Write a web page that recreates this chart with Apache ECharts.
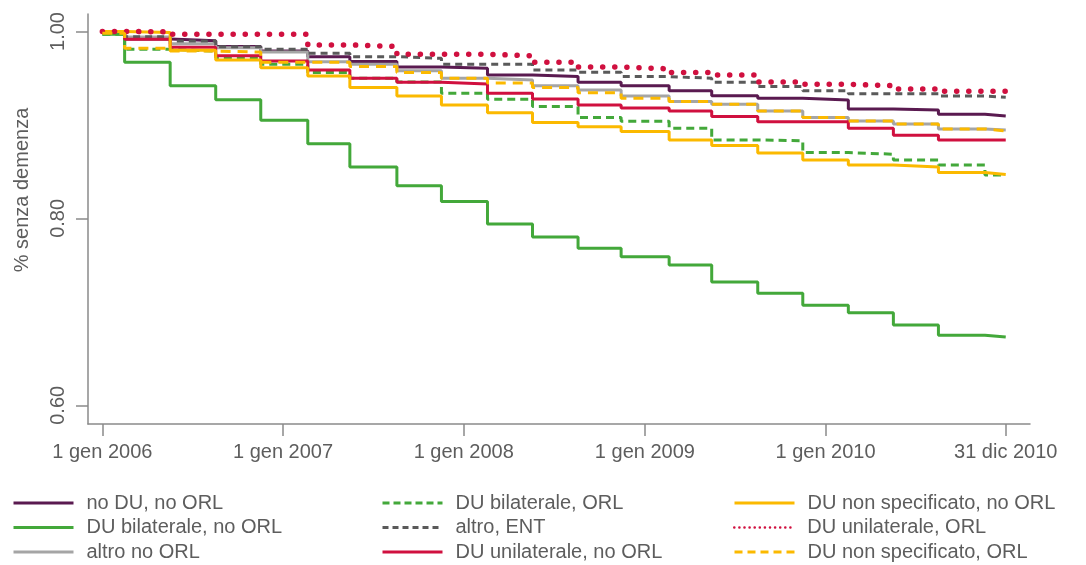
<!DOCTYPE html>
<html>
<head>
<meta charset="utf-8">
<script src="https://cdn.jsdelivr.net/npm/echarts@6/dist/echarts.min.js"></script>
<style>html,body{margin:0;padding:0;background:#fff}#c{width:1086px;height:565px}</style>
</head>
<body>
<div id="c"></div>
<script>
// Days since 1 Jan 2006 of the axis ticks, and their labels
const tickDays = [0, 365, 730, 1096, 1461, 1825];
const tickLabels = ['1 gen 2006', '1 gen 2007', '1 gen 2008', '1 gen 2009', '1 gen 2010', '31 dic 2010'];
const yTicks = [0.6, 0.8, 1.0];
const yTitle = '% senza demenza';

// Step times (days since 1 Jan 2006): start, 20 drops, end (31 dic 2010)
const stepDays = [0, 45, 137, 229, 320, 415, 500, 595, 685, 778, 869, 961, 1048, 1145, 1231, 1324, 1415, 1507, 1598, 1689, 1783, 1825];

// Survival values (level held after each step time)
const noDU_noORL      = [1.000, 0.992, 0.990, 0.984, 0.979, 0.973, 0.968, 0.962, 0.9606, 0.9535, 0.9517, 0.9457, 0.942, 0.9367, 0.9313, 0.9286, 0.9267, 0.917, 0.916, 0.9114, 0.9096];
const DUbil_noORL     = [0.997, 0.967, 0.942, 0.927, 0.905, 0.880, 0.855, 0.835, 0.818, 0.794, 0.780, 0.768, 0.759, 0.750, 0.732, 0.720, 0.707, 0.699, 0.686, 0.675, 0.673];
const altro_noORL     = [1.000, 0.994, 0.987, 0.9827, 0.978, 0.9677, 0.965, 0.958, 0.950, 0.948, 0.942, 0.9374, 0.931, 0.925, 0.922, 0.915, 0.908, 0.9043, 0.901, 0.8957, 0.8947];
const DUbil_ORL       = [0.997, 0.981, 0.979, 0.972, 0.965, 0.956, 0.950, 0.946, 0.934, 0.9275, 0.9196, 0.908, 0.904, 0.8965, 0.884, 0.883, 0.8704, 0.8687, 0.8626, 0.857, 0.8465];
const altro_ENT       = [1.000, 0.9944, 0.9898, 0.9837, 0.981, 0.9767, 0.973, 0.9713, 0.965, 0.965, 0.9588, 0.9564, 0.9517, 0.950, 0.9457, 0.941, 0.9367, 0.9335, 0.9335, 0.931, 0.9296];
const DUuni_noORL     = [1.000, 0.9917, 0.983, 0.974, 0.9684, 0.9588, 0.950, 0.9457, 0.9438, 0.934, 0.9278, 0.9214, 0.918, 0.915, 0.909, 0.9035, 0.9035, 0.8965, 0.889, 0.884, 0.884];
const DUnonspec_noORL = [1.000, 0.999, 0.980, 0.9695, 0.9613, 0.9524, 0.940, 0.931, 0.9214, 0.913, 0.9025, 0.898, 0.893, 0.884, 0.878, 0.870, 0.8626, 0.857, 0.855, 0.849, 0.847];
const DUuni_ORL       = [1.000, 0.9995, 0.997, 0.997, 0.997, 0.9856, 0.984, 0.9756, 0.9756, 0.974, 0.967, 0.962, 0.960, 0.956, 0.9535, 0.946, 0.9435, 0.942, 0.9385, 0.936, 0.936];
const DUnonspec_ORL   = [0.998, 0.982, 0.979, 0.978, 0.967, 0.967, 0.9624, 0.956, 0.950, 0.945, 0.940, 0.9345, 0.9286, 0.925, 0.922, 0.915, 0.908, 0.9043, 0.901, 0.8957, 0.8936];

const seriesNames = ['no DU, no ORL', 'DU bilaterale, no ORL', 'altro no ORL', 'DU bilaterale, ORL', 'altro, ENT', 'DU unilaterale, no ORL', 'DU non specificato, no ORL', 'DU unilaterale, ORL', 'DU non specificato, ORL'];
const seriesValues = [noDU_noORL, DUbil_noORL, altro_noORL, DUbil_ORL, altro_ENT, DUuni_noORL, DUnonspec_noORL, DUuni_ORL, DUnonspec_ORL];

const PURPLE = '#5a1a50', GREEN = '#43a83a', LGRAY = '#a5a5a5', DGRAY = '#5a5a5a', RED = '#d0103f', YELLOW = '#fbb900';
const styles = [
  {color: PURPLE, type: 'solid', width: 3},
  {color: GREEN, type: 'solid', width: 3},
  {color: LGRAY, type: 'solid', width: 3},
  {color: GREEN, type: [8, 5], width: 3},
  {color: DGRAY, type: [7, 5], width: 3},
  {color: RED, type: 'solid', width: 3},
  {color: YELLOW, type: 'solid', width: 3},
  {color: RED, type: [0.1, 12], width: 5.5, cap: 'round'},
  {color: YELLOW, type: [10, 7], width: 3}
];
const legendLine = [
  {width: 3, type: 'solid'},
  {width: 3, type: 'solid'},
  {width: 3, type: 'solid'},
  {width: 3, type: [7, 4]},
  {width: 3, type: [6, 4]},
  {width: 3, type: 'solid'},
  {width: 3, type: 'solid'},
  {width: 2.5, type: [0.1, 5], cap: 'round'},
  {width: 3, type: [8, 5]}
];

const TXT = '#5d5d5d', AX = '#8a8a8a';
const FONT = 'Liberation Sans, Arial, sans-serif';

const series = seriesNames.map((name, k) => ({
  name: name,
  type: 'line',
  step: 'end',
  symbol: 'none',
  z: 2 + k,
  lineStyle: styles[k],
  itemStyle: {color: styles[k].color},
  data: stepDays.map((d, i) => [d, seriesValues[k][Math.min(i, seriesValues[k].length - 1)]])
}));

// legend: 3 columns x 3 rows, column-major
const legendLefts = [12, 381, 733];
const legendTops = [491, 515.5, 540];
const legends = seriesNames.map((name, k) => ({
  left: legendLefts[Math.floor(k / 3)], top: legendTops[k % 3],
  orient: 'horizontal', padding: 0,
  itemWidth: 60, itemHeight: 14,
  data: [name],
  itemStyle: {opacity: 0},
  lineStyle: Object.assign({color: styles[k].color}, legendLine[k]),
  textStyle: {color: TXT, fontSize: 20, fontFamily: FONT, lineHeight: 24, padding: [0, 0, 0, 8]},
  selectedMode: false
}));

const chart = echarts.init(document.getElementById('c'), null, {renderer: 'canvas'});
chart.setOption({
  animation: false,
  backgroundColor: '#fff',
  grid: {left: 88, right: 56, top: 14, bottom: 141, containLabel: false},
  xAxis: {
    type: 'value', min: -29, max: 1874,
    axisLine: {show: true, onZero: false, lineStyle: {color: AX, width: 1.5}},
    axisTick: {show: true, length: 12, customValues: tickDays, lineStyle: {color: AX, width: 1.5}},
    axisLabel: {customValues: tickDays, margin: 18, color: TXT, fontSize: 20, fontFamily: FONT,
      formatter: v => tickLabels[tickDays.indexOf(v)] || ''},
    splitLine: {show: false}
  },
  yAxis: {
    type: 'value', min: 0.58, max: 1.0187,
    axisLine: {show: true, onZero: false, lineStyle: {color: AX, width: 1.5}},
    axisTick: {show: true, length: 12, customValues: yTicks, lineStyle: {color: AX, width: 1.5}},
    axisLabel: {customValues: yTicks, rotate: 90, margin: 20, color: TXT, fontSize: 20, fontFamily: FONT,
      formatter: v => v.toFixed(2)},
    splitLine: {show: false}
  },
  legend: legends,
  graphic: [{
    type: 'text', x: 22, y: 190, rotation: Math.PI / 2,
    style: {text: yTitle, fill: TXT, fontSize: 20, fontFamily: FONT, align: 'center', verticalAlign: 'middle'}
  }],
  series: series
});
</script>
</body>
</html>
